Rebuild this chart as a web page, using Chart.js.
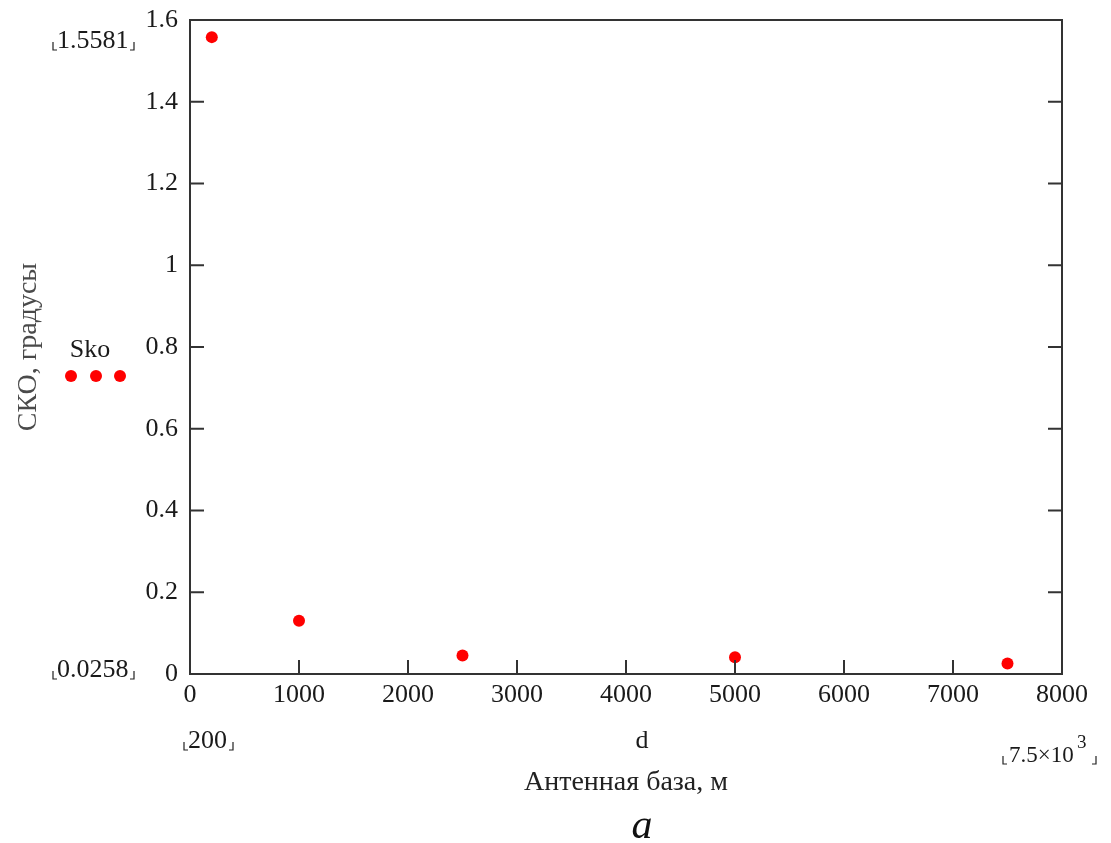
<!DOCTYPE html>
<html>
<head>
<meta charset="utf-8">
<title>СКО от антенной базы</title>
<script src="https://cdn.jsdelivr.net/npm/chart.js@4"></script>
<style>
  html, body { margin: 0; padding: 0; background: #fff; }
  canvas { display: block; }
</style>
</head>
<body>
<canvas id="skoChart" width="1111" height="843"></canvas>
<script>
"use strict";

// antenna base d, m
const distances = [200, 1000, 2500, 5000, 7500];
// RMS error, degrees
const skoValues = [1.5581, 0.13, 0.045, 0.041, 0.0258];

const xTicks = [0, 1000, 2000, 3000, 4000, 5000, 6000, 7000, 8000];
const yTicks = [0, 0.2, 0.4, 0.6, 0.8, 1, 1.2, 1.4, 1.6];

const SERIF = "'Liberation Serif', 'Times New Roman', serif";
const INK = "#1a1a1a";
const FRAME = "#333";

// small corner marks around the range labels
function drawBrackets(ctx, x1, x2, base) {
  ctx.save();
  ctx.strokeStyle = "#222";
  ctx.lineWidth = 1.2;
  ctx.beginPath();
  ctx.moveTo(x1, base - 6);
  ctx.lineTo(x1, base + 2);
  ctx.lineTo(x1 + 4, base + 2);
  ctx.moveTo(x2, base - 6);
  ctx.lineTo(x2, base + 2);
  ctx.lineTo(x2 - 4, base + 2);
  ctx.stroke();
  ctx.restore();
}

const framePlugin = {
  id: "frame",
  afterDraw(chart) {
    const { ctx, chartArea: a, scales } = chart;
    const tick = 14;

    ctx.save();
    ctx.strokeStyle = FRAME;
    ctx.lineWidth = 2;
    ctx.strokeRect(a.left, a.top, a.right - a.left, a.bottom - a.top);

    // inward ticks: left, right and bottom
    ctx.beginPath();
    yTicks.forEach((v) => {
      const y = scales.y.getPixelForValue(v);
      ctx.moveTo(a.left, y);
      ctx.lineTo(a.left + tick, y);
      ctx.moveTo(a.right, y);
      ctx.lineTo(a.right - tick, y);
    });
    xTicks.forEach((v) => {
      const x = scales.x.getPixelForValue(v);
      ctx.moveTo(x, a.bottom);
      ctx.lineTo(x, a.bottom - tick);
    });
    ctx.stroke();

    // range labels
    ctx.fillStyle = INK;
    ctx.font = "26px " + SERIF;
    ctx.textBaseline = "alphabetic";
    ctx.textAlign = "left";
    ctx.fillText("1.5581", 57, 48);
    drawBrackets(ctx, 53, 134, 48);
    ctx.fillText("0.0258", 57, 677);
    drawBrackets(ctx, 53, 134, 677);
    ctx.fillText("200", 188, 748);
    drawBrackets(ctx, 184, 233, 748);

    ctx.font = "23px " + SERIF;
    ctx.fillText("7.5\u00d710", 1009, 762);
    ctx.font = "19px " + SERIF;
    ctx.fillText("3", 1077, 748);
    drawBrackets(ctx, 1003, 1096, 762);

    ctx.font = "26px " + SERIF;
    ctx.textAlign = "center";
    ctx.fillText("d", 642, 748);
    ctx.fillText("Sko", 90, 357);

    // series marker sample under the name
    ctx.fillStyle = "#ff0000";
    [71, 96, 120].forEach((x) => {
      ctx.beginPath();
      ctx.arc(x, 376, 6, 0, Math.PI * 2);
      ctx.fill();
    });

    ctx.fillStyle = "#111";
    ctx.font = "italic 42px " + SERIF;
    ctx.fillText("a", 642, 838);
    ctx.restore();
  },
};

const ctx = document.getElementById("skoChart").getContext("2d");
const skoChart = new Chart(ctx, {
  type: "scatter",
  data: {
    datasets: [
      {
        label: "Sko",
        data: distances.map((d, i) => ({ x: d, y: skoValues[i] })),
        backgroundColor: "#ff0000",
        borderWidth: 0,
        pointRadius: 6,
        pointHoverRadius: 6,
        clip: false,
      },
    ],
  },
  options: {
    responsive: false,
    animation: false,
    layout: {
      padding: { left: 12, right: 49, top: 20, bottom: 44 },
    },
    plugins: {
      legend: { display: false },
      tooltip: { enabled: false },
    },
    scales: {
      x: {
        type: "linear",
        min: 0,
        max: 8000,
        afterFit(scale) {
          scale.height = 125;
          scale.paddingLeft = 0;
          scale.paddingRight = 0;
        },
        afterBuildTicks(scale) {
          scale.ticks = xTicks.map((v) => ({ value: v }));
        },
        ticks: {
          padding: 6,
          maxRotation: 0,
          color: INK,
          font: { family: SERIF, size: 26 },
          callback: (v) => String(v),
        },
        grid: { display: false, drawTicks: false },
        border: { display: false },
        title: {
          display: true,
          text: "Антенная база, м",
          color: "#222",
          padding: { top: 4, bottom: 0 },
          font: { family: SERIF, size: 28 },
        },
      },
      y: {
        type: "linear",
        min: 0,
        max: 1.6,
        afterFit(scale) {
          scale.width = 178;
          // let the top label sit above the plot edge
          scale.paddingTop = 0;
          scale.paddingBottom = 0;
        },
        afterBuildTicks(scale) {
          scale.ticks = yTicks.map((v) => ({ value: v }));
        },
        ticks: {
          padding: 12,
          color: INK,
          font: { family: SERIF, size: 26 },
          callback: (v) => String(Math.round(v * 10) / 10),
        },
        grid: { display: false, drawTicks: false },
        border: { display: false },
        title: {
          display: true,
          text: "СКО, градусы",
          color: "#4a4a4a",
          padding: { top: 0, bottom: 0 },
          font: { family: SERIF, size: 28 },
        },
      },
    },
  },
  plugins: [framePlugin],
});
</script>
</body>
</html>
